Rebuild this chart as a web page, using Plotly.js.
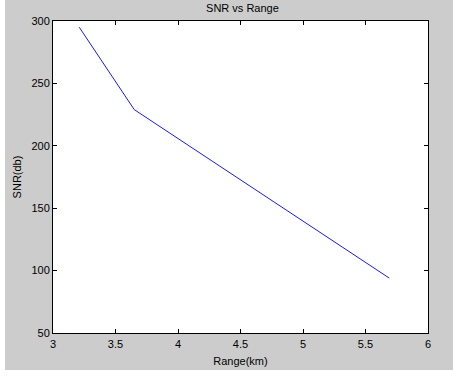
<!DOCTYPE html>
<html><head><meta charset="utf-8">
<script src="https://cdn.plot.ly/plotly-3.0.1.min.js"></script>
<style>html,body{margin:0;padding:0;background:#fff;}#plot{position:absolute;left:5px;top:0;width:448px;height:370px;}</style>
</head><body><div id="plot"></div>
<script>
const rangeKm = [3.21, 3.65, 5.69];
const snrDb = [295, 229, 94];
const xTicks = [3, 3.5, 4, 4.5, 5, 5.5, 6];
const xTickText = ['3', '3.5', '4', '4.5', '5', '5.5', '6'];
const yTicks = [50, 100, 150, 200, 250, 300];

const font = {family: 'Liberation Sans, Arial, sans-serif', size: 11, color: '#000'};
const axisCommon = {
  showline: true, linecolor: '#000', linewidth: 1, mirror: 'ticks',
  ticks: 'inside', ticklen: 4, tickcolor: '#000', tickwidth: 1,
  showgrid: false, zeroline: false, tickfont: font, fixedrange: true
};
Plotly.newPlot('plot', [{
  x: rangeKm, y: snrDb, type: 'scatter', mode: 'lines',
  line: {color: '#1a1aee', width: 1}, hoverinfo: 'skip'
}], {
  width: 448, height: 370,
  paper_bgcolor: '#cccccc', plot_bgcolor: '#ffffff',
  margin: {l: 48, r: 25, t: 21, b: 37},
  showlegend: false,
  font: font,
  title: {text: 'SNR vs Range', font: font, x: 0.53, xanchor: 'center', y: 0.978, yanchor: 'middle', yref: 'container'},
  xaxis: Object.assign({}, axisCommon, {
    range: [3, 6], tickvals: xTicks, ticktext: xTickText, ticklabelstandoff: 1,
    title: {text: 'Range(km)', font: font, standoff: 8}
  }),
  yaxis: Object.assign({}, axisCommon, {
    range: [50, 300], tickvals: yTicks,
    title: {text: 'SNR(db)', font: font, standoff: 7}
  })
}, {displayModeBar: false, staticPlot: true});
</script></body></html>
